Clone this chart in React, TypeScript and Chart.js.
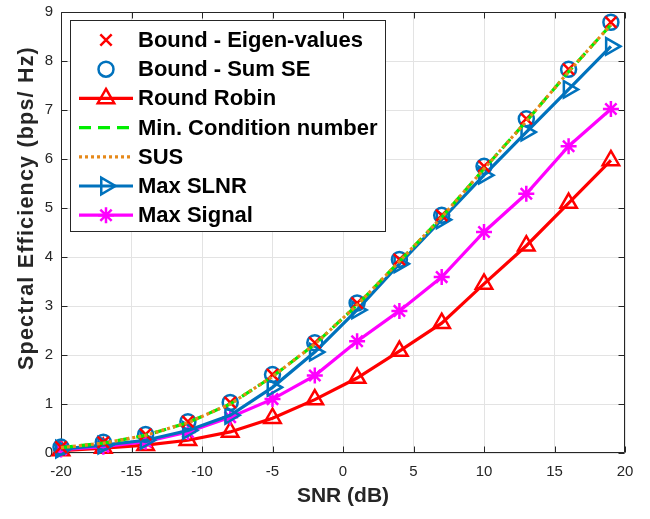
import React, { useEffect, useRef } from 'react';
import { Chart, registerables } from 'chart.js';
import { drawPoint } from 'chart.js/helpers';

Chart.register(...registerables);

// ---- Data ----
const snrDb = [-20, -17, -14, -11, -8, -5, -2, 1, 4, 7, 10, 13, 16, 19];
const xTickValues = [-20, -15, -10, -5, 0, 5, 10, 15, 20];
const yTickValues = [0, 1, 2, 3, 4, 5, 6, 7, 8, 9];

const boundEigen = [0.12, 0.22, 0.38, 0.64, 1.03, 1.6, 2.25, 3.06, 3.95, 4.85, 5.85, 6.82, 7.83, 8.79];
const boundSumSE = [0.12, 0.22, 0.38, 0.64, 1.03, 1.6, 2.25, 3.06, 3.95, 4.85, 5.85, 6.82, 7.83, 8.79];
const roundRobin = [0.05, 0.1, 0.16, 0.26, 0.43, 0.71, 1.09, 1.53, 2.08, 2.65, 3.45, 4.23, 5.1, 5.97];
const minCondition = [0.11, 0.2, 0.36, 0.62, 1.0, 1.56, 2.22, 3.02, 3.91, 4.81, 5.8, 6.77, 7.78, 8.74];
const sus = [0.11, 0.2, 0.36, 0.62, 1.0, 1.56, 2.22, 3.02, 3.91, 4.81, 5.8, 6.77, 7.78, 8.74];
const maxSLNR = [0.08, 0.16, 0.26, 0.46, 0.77, 1.34, 2.06, 2.92, 3.86, 4.76, 5.67, 6.55, 7.42, 8.3];
const maxSignal = [0.07, 0.13, 0.23, 0.43, 0.73, 1.1, 1.58, 2.28, 2.9, 3.59, 4.51, 5.29, 6.26, 7.02];

const seriesLabels = [
  'Bound - Eigen-values',
  'Bound - Sum SE',
  'Round Robin',
  'Min. Condition number',
  'SUS',
  'Max SLNR',
  'Max Signal',
];
const seriesValues = [boundEigen, boundSumSE, roundRobin, minCondition, sus, maxSLNR, maxSignal];

// ---- Styles ----
const FONT = "'Liberation Sans', Arial, Helvetica, sans-serif";
const AX = '#262626';
const styles = [
  { color: '#ff0000', showLine: false, dash: [] as number[], point: 'crossRot', radius: 8, rotation: 0, order: 2 },
  { color: '#0072bd', showLine: false, dash: [], point: 'circle', radius: 7.5, rotation: 0, order: 3 },
  { color: '#ff0000', showLine: true, dash: [], point: 'triangle', radius: 9.5, rotation: 0, order: 6 },
  { color: '#00ee00', showLine: true, dash: [12, 7], point: false as any, radius: 0, rotation: 0, order: 1 },
  { color: '#e6891a', showLine: true, dash: [3, 3], point: false as any, radius: 0, rotation: 0, order: 0 },
  { color: '#0072bd', showLine: true, dash: [], point: 'triangle', radius: 9.5, rotation: 90, order: 4 },
  { color: '#ff00ff', showLine: true, dash: [], point: 'star', radius: 8, rotation: 0, order: 5 },
];

const LINE_W = 3.2;
const MARK_W = 2.5;

const matlabPlugin = {
  id: 'matlabLook',
  beforeDatasetsDraw(chart: any) {
    const { ctx, chartArea, scales } = chart;
    const l = Math.round(chartArea.left) + 0.5;
    const r = Math.round(chartArea.right) - 0.5;
    const t = Math.round(chartArea.top) + 0.5;
    const b = Math.round(chartArea.bottom) - 0.5;
    ctx.save();
    ctx.strokeStyle = AX;
    ctx.lineWidth = 1;
    ctx.beginPath();
    ctx.rect(l, t, r - l, b - t);
    const tl = 6;
    xTickValues.forEach((v) => {
      const x = Math.round(scales.x.getPixelForValue(v)) + 0.5;
      ctx.moveTo(x, b);
      ctx.lineTo(x, b - tl);
      ctx.moveTo(x, t);
      ctx.lineTo(x, t + tl);
    });
    yTickValues.forEach((v) => {
      const y = Math.round(scales.y.getPixelForValue(v)) + 0.5;
      ctx.moveTo(l, y);
      ctx.lineTo(l + tl, y);
      ctx.moveTo(r, y);
      ctx.lineTo(r - tl, y);
    });
    ctx.stroke();
    ctx.restore();
  },
  afterDraw(chart: any) {
    const { ctx, chartArea } = chart;
    ctx.save();
    // axis titles
    ctx.fillStyle = AX;
    ctx.font = `bold 21px ${FONT}`;
    ctx.textAlign = 'center';
    ctx.textBaseline = 'alphabetic';
    ctx.fillText('SNR (dB)', (chartArea.left + chartArea.right) / 2, 502);
    ctx.save();
    ctx.translate(33, 208);
    ctx.rotate(-Math.PI / 2);
    (ctx as any).letterSpacing = '1.2px';
    ctx.font = `bold 21.5px ${FONT}`;
    ctx.fillText('Spectral Efficiency (bps/ Hz)', 0, 0);
    ctx.restore();

    // legend
    const bx = 70.5, by = 20.5, bw = 315, bh = 211;
    ctx.fillStyle = '#ffffff';
    ctx.fillRect(bx, by, bw, bh);
    ctx.strokeStyle = AX;
    ctx.lineWidth = 1;
    ctx.strokeRect(bx, by, bw, bh);
    const rowH = 29.2;
    seriesLabels.forEach((label, i) => {
      const st = styles[i];
      const y = 40 + i * rowH;
      ctx.strokeStyle = st.color;
      ctx.fillStyle = 'rgba(0,0,0,0)';
      if (st.showLine) {
        ctx.save();
        ctx.lineWidth = LINE_W;
        ctx.setLineDash(st.dash);
        ctx.beginPath();
        ctx.moveTo(79, y);
        ctx.lineTo(133, y);
        ctx.stroke();
        ctx.restore();
      }
      if (st.point) {
        ctx.save();
        ctx.lineWidth = MARK_W;
        ctx.strokeStyle = st.color;
        ctx.fillStyle = 'rgba(0,0,0,0)';
        drawPoint(ctx, { pointStyle: st.point, rotation: st.rotation, radius: st.radius, borderWidth: MARK_W } as any, 106, y);
        ctx.restore();
      }
      ctx.fillStyle = '#000000';
      ctx.font = `bold 22px ${FONT}`;
      ctx.textAlign = 'left';
      ctx.textBaseline = 'middle';
      ctx.fillText(label, 138, y + 1);
    });
    ctx.restore();
  },
};

export default function App() {
  const canvasRef = useRef<HTMLCanvasElement | null>(null);

  useEffect(() => {
    const canvas = canvasRef.current;
    if (!canvas) return;
    const datasets = seriesLabels.map((label, i) => {
      const st = styles[i];
      return {
        label,
        data: seriesValues[i].map((v, j) => ({ x: snrDb[j], y: v })),
        showLine: st.showLine,
        borderColor: st.color,
        backgroundColor: 'rgba(0,0,0,0)',
        borderWidth: LINE_W,
        borderDash: st.dash,
        borderCapStyle: 'butt',
        pointStyle: st.point,
        pointRadius: st.radius,
        pointRotation: st.rotation,
        pointBorderColor: st.color,
        pointBackgroundColor: 'rgba(0,0,0,0)',
        pointBorderWidth: MARK_W,
        tension: 0,
        clip: false,
        order: st.order,
      };
    });
    const chart = new Chart(canvas, {
      type: 'scatter',
      data: { datasets: datasets as any },
      plugins: [matlabPlugin],
      options: {
        responsive: false,
        maintainAspectRatio: false,
        animation: false,
        layout: { padding: { top: 6, right: 25, left: 0, bottom: 0 } },
        plugins: { legend: { display: false }, tooltip: { enabled: false } },
        scales: {
          x: {
            type: 'linear',
            min: -20,
            max: 20,
            afterBuildTicks: (s: any) => {
              s.ticks = xTickValues.map((v) => ({ value: v }));
            },
            afterFit: (s: any) => {
              s.height = 66;
              s.paddingLeft = 0;
              s.paddingRight = 0;
            },
            grid: { color: '#e3e3e3', lineWidth: 1, drawTicks: false },
            border: { display: false },
            ticks: {
              padding: 10,
              maxRotation: 0,
              autoSkip: false,
              color: AX,
              font: { family: FONT, size: 15 },
            },
          },
          y: {
            type: 'linear',
            min: 0,
            max: 9,
            afterBuildTicks: (s: any) => {
              s.ticks = yTickValues.map((v) => ({ value: v }));
            },
            afterFit: (s: any) => {
              s.width = 61;
              s.paddingTop = 0;
              s.paddingBottom = 0;
            },
            grid: { color: '#e3e3e3', lineWidth: 1, drawTicks: false },
            border: { display: false },
            ticks: {
              padding: 8,
              autoSkip: false,
              color: AX,
              font: { family: FONT, size: 15 },
            },
          },
        },
      },
    });
    return () => chart.destroy();
  }, []);

  return (
    <div style={{ position: 'fixed', left: 0, top: 0, width: 650, height: 519, background: '#fff' }}>
      <canvas ref={canvasRef} width={650} height={519} style={{ display: 'block', width: 650, height: 519 }} />
    </div>
  );
}
